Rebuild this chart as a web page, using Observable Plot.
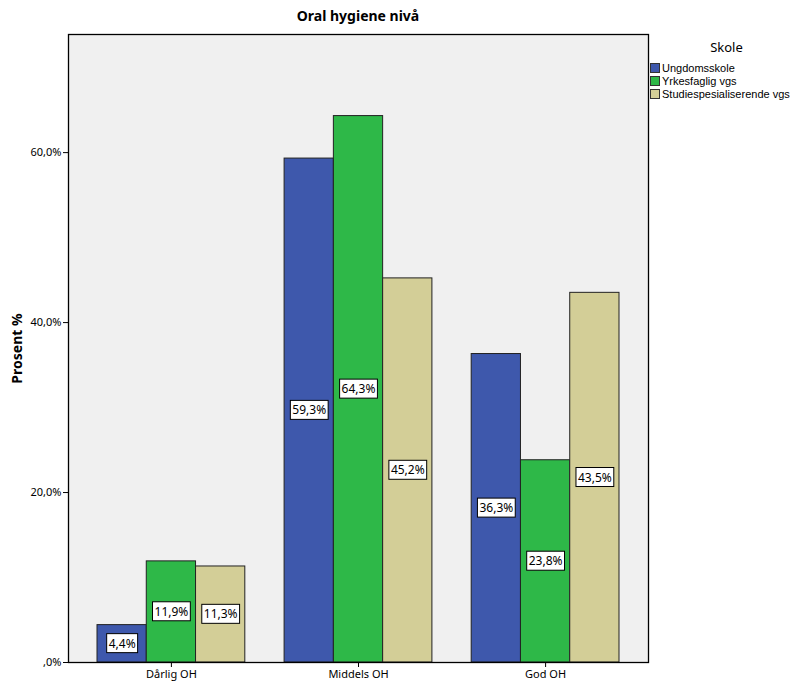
<!DOCTYPE html>
<html><head><meta charset="utf-8">
<script src="https://cdn.jsdelivr.net/npm/d3@7"></script>
<script src="https://cdn.jsdelivr.net/npm/@observablehq/plot@0.6"></script>
<style>
body{margin:0;background:#fff;font-family:"Noto Sans",sans-serif}
#wrap{position:relative;width:803px;height:685px;overflow:hidden}
#title{position:absolute;left:68px;width:580px;top:7px;text-align:center;font-weight:bold;font-size:14px;line-height:18px;color:#000}
#legend{position:absolute;left:650px;top:39px;width:153px;font-size:11px;color:#000}
#legend .hd{text-align:center;font-size:13px;line-height:16px;margin-bottom:7px}
#legend .it{display:flex;align-items:center;height:12.7px;white-space:nowrap;font-family:"Liberation Sans",sans-serif;font-size:11px;line-height:12px}
#legend .sw{width:10px;height:10px;border:1px solid #333;margin-right:2px;box-sizing:border-box;flex:none}
svg text{font-family:"Noto Sans",sans-serif}
</style></head>
<body><div id="wrap"><div id="title">Oral hygiene nivå</div><div id="legend"></div></div>
<script>
const groups = ["Dårlig OH", "Middels OH", "God OH"];
const series = ["Ungdomsskole", "Yrkesfaglig vgs", "Studiespesialiserende vgs"];
const colors = ["#3e58ac", "#2eb848", "#d3ce97"];
const ungdomsskole = [4.4, 59.3, 36.3];
const yrkesfaglig = [11.9, 64.3, 23.8];
const studiespes = [11.3, 45.2, 43.5];
const yTicks = [0, 20, 40, 60];

const values = [ungdomsskole, yrkesfaglig, studiespes];
const data = [];
groups.forEach((g, gi) => series.forEach((s, si) => data.push({group: g, series: s, value: values[si][gi]})));

const fmt = v => v === 0 ? ",0%" : v.toFixed(1).replace(".", ",") + "%";

const W = 803, H = 685, mL = 68, mR = 155;
const pInner = 0.21, pOuter = 0.155;
const step = (W - mL - mR) / (groups.length - pInner + 2 * pOuter);
const off = pOuter * step; // distance from frame edge to first facet

const chart = Plot.plot({
  width: W, height: H,
  marginLeft: mL, marginRight: mR, marginTop: 34, marginBottom: 23,
  style: {fontSize: "11px", color: "#000", background: "transparent"},
  fx: {domain: groups, paddingInner: pInner, paddingOuter: pOuter, label: null, round: false},
  x: {domain: series, padding: 0, axis: null, round: false},
  y: {domain: [0, 73.9], label: null},
  color: {domain: series, range: colors},
  marks: [
    Plot.frame({fill: "#f0f0f0", facet: "super", insetLeft: -off, insetRight: -off}),
    Plot.barY(data, {fx: "group", x: "series", y: "value", fill: "series", stroke: "#222", strokeWidth: 1}),
    Plot.text(data, {fx: "group", x: "series", y: d => d.value / 2, text: d => fmt(d.value), fontSize: 12, fill: "#000", className: "vlab"}),
    Plot.frame({stroke: "#000", strokeWidth: 1.3, facet: "super", insetLeft: -off, insetRight: -off}),
    Plot.axisY({ticks: yTicks, tickFormat: fmt, tickSize: 5, tickPadding: 2, label: "Prosent %", labelAnchor: "center", labelOffset: 56 + off, labelArrow: false, dx: -off}),
    Plot.axisFx({anchor: "bottom", tickSize: 5, tickPadding: 3, label: null, fontSize: 11})
  ]
});
document.getElementById("wrap").prepend(chart);
chart.style.position = "absolute"; chart.style.left = "0"; chart.style.top = "0";

chart.querySelectorAll('[aria-label="y-axis label"] text').forEach(t => {t.style.fontWeight = "bold"; t.style.fontSize = "14px";});

chart.querySelectorAll(".vlab text").forEach(t => {
  const b = t.getBBox();
  const r = document.createElementNS("http://www.w3.org/2000/svg", "rect");
  r.setAttribute("x", b.x - 2); r.setAttribute("y", b.y - 1);
  r.setAttribute("width", b.width + 4); r.setAttribute("height", b.height + 2);
  r.setAttribute("fill", "#fff"); r.setAttribute("stroke", "#000"); r.setAttribute("stroke-width", 1);
  if (t.getAttribute("transform")) r.setAttribute("transform", t.getAttribute("transform"));
  t.parentNode.insertBefore(r, t);
});

const lg = document.getElementById("legend");
const hd = document.createElement("div"); hd.className = "hd"; hd.textContent = "Skole"; lg.appendChild(hd);
series.forEach((s, i) => {
  const it = document.createElement("div"); it.className = "it";
  const sw = document.createElement("div"); sw.className = "sw"; sw.style.background = colors[i];
  const tx = document.createElement("span"); tx.textContent = s;
  it.appendChild(sw); it.appendChild(tx); lg.appendChild(it);
});
</script></body></html>
